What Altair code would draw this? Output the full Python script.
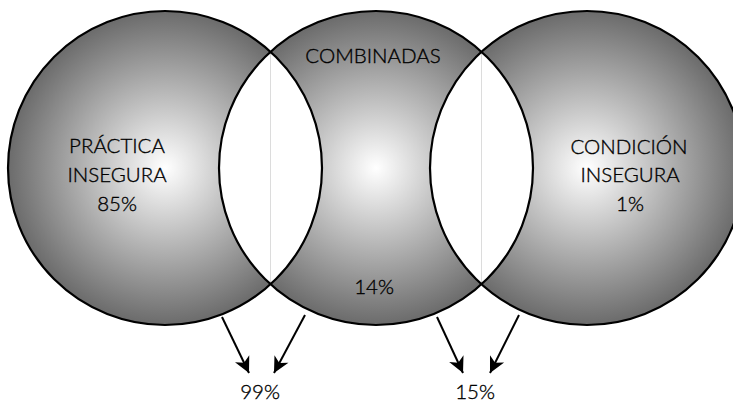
import altair as alt
import numpy as np
import pandas as pd

W, H = 733, 402

# --- data (pixel units) ---
circle_names = ["PRÁCTICA INSEGURA", "COMBINADAS", "CONDICIÓN INSEGURA"]
circle_cx = [165, 376, 587]
circle_cy = [168, 168, 168]
circle_r = 157

label_text = ["PRÁCTICA", "INSEGURA", "85%", "COMBINADAS", "14%",
              "CONDICIÓN", "INSEGURA", "1%", "99%", "15%"]
label_x = [117, 117, 117, 373, 374, 629, 630, 630, 260, 475]
label_y = [153, 182, 211, 63, 294, 154, 182, 211, 399, 399]

arrow_x0 = [222, 305, 437, 519]
arrow_y0 = [317, 315, 317, 315]
arrow_x1 = [249, 274, 463, 490]
arrow_y1 = [373, 373, 373, 373]

# --- tables built from the arrays ---
circles = pd.DataFrame({"name": circle_names, "x": circle_cx, "y": circle_cy})

lens_rows = []
sep_rows = []
for i in range(len(circle_cx) - 1):
    ca, cb = circle_cx[i], circle_cx[i + 1]
    cy = circle_cy[i]
    half = np.sqrt(circle_r ** 2 - ((cb - ca) / 2) ** 2)
    ys = np.linspace(cy - half, cy + half, 200)
    dx = np.sqrt(np.clip(circle_r ** 2 - (ys - cy) ** 2, 0, None))
    for yy, d in zip(ys, dx):
        lens_rows.append({"lens": i, "y": yy, "x": cb - d, "x2": ca + d})
    mid = (ca + cb) / 2
    sep_rows.append({"x": mid, "y": cy - half, "x2": mid, "y2": cy + half})
lens = pd.DataFrame(lens_rows)
seps = pd.DataFrame(sep_rows)

labels = pd.DataFrame({"text": label_text, "x": label_x, "y": label_y})

ax0, ay0 = np.array(arrow_x0, float), np.array(arrow_y0, float)
ax1, ay1 = np.array(arrow_x1, float), np.array(arrow_y1, float)
ang = (-np.degrees(np.arctan2(ax1 - ax0, ay1 - ay0))) % 360
arrows = pd.DataFrame({"x": ax0, "y": ay0, "x2": ax1, "y2": ay1, "tx": ax1, "ty": ay1, "ang": ang})

xs = alt.Scale(domain=[0, W], nice=False, zero=False)
ys_ = alt.Scale(domain=[0, H], nice=False, zero=False, reverse=True)
X = lambda f: alt.X(f, type="quantitative", scale=xs, axis=None)
Y = lambda f: alt.Y(f, type="quantitative", scale=ys_, axis=None)

size = (2 * circle_r) ** 2

grad = alt.RadialGradient(
    gradient="radial",
    stops=[alt.GradientStop(offset=0, color="#ffffff"),
           alt.GradientStop(offset=1, color="#6b6b6b")],
    x1=0.5, y1=0.5, r1=0, x2=0.5, y2=0.5, r2=0.5,
)

fills = alt.Chart(circles).mark_point(
    shape="circle", filled=True, fill=grad, opacity=1, size=size, strokeWidth=0
).encode(x=X("x"), y=Y("y"))

lens_layer = alt.Chart(lens).mark_area(
    orient="horizontal", color="white", opacity=1
).encode(y=Y("y"), x=X("x"), x2="x2", detail="lens:N")

sep_layer = alt.Chart(seps).mark_rule(color="#dcdcdc", strokeWidth=1).encode(
    x=X("x"), y=Y("y"), x2="x2", y2="y2")

outlines = alt.Chart(circles).mark_point(
    shape="circle", filled=False, stroke="black", strokeWidth=2.2, opacity=1, size=size
).encode(x=X("x"), y=Y("y"))

text_layer = alt.Chart(labels).mark_text(
    font="Lato", fontSize=20.5, fontWeight=300, color="#000000", align="center",
    baseline="alphabetic", stroke="#000000", strokeWidth=0.35
).encode(x=X("x"), y=Y("y"), text="text:N")

shafts = alt.Chart(arrows).mark_rule(color="black", strokeWidth=2).encode(
    x=X("x"), y=Y("y"), x2="x2", y2="y2")

heads = alt.Chart(arrows).mark_point(
    shape="M0,0 L-0.5,-1 L0,-0.72 L0.5,-1 Z", filled=True, color="black",
    opacity=1, size=1000, strokeWidth=0
).encode(x=X("tx"), y=Y("ty"), angle=alt.Angle("ang:Q", scale=None))

chart = alt.layer(fills, lens_layer, sep_layer, outlines, text_layer, shafts, heads).properties(
    width=W, height=H, autosize=alt.AutoSizeParams(type="none"), padding=0,
    background="white"
).configure_view(stroke=None)

chart.save("out.html", embed_options={"renderer": "svg", "actions": False})
